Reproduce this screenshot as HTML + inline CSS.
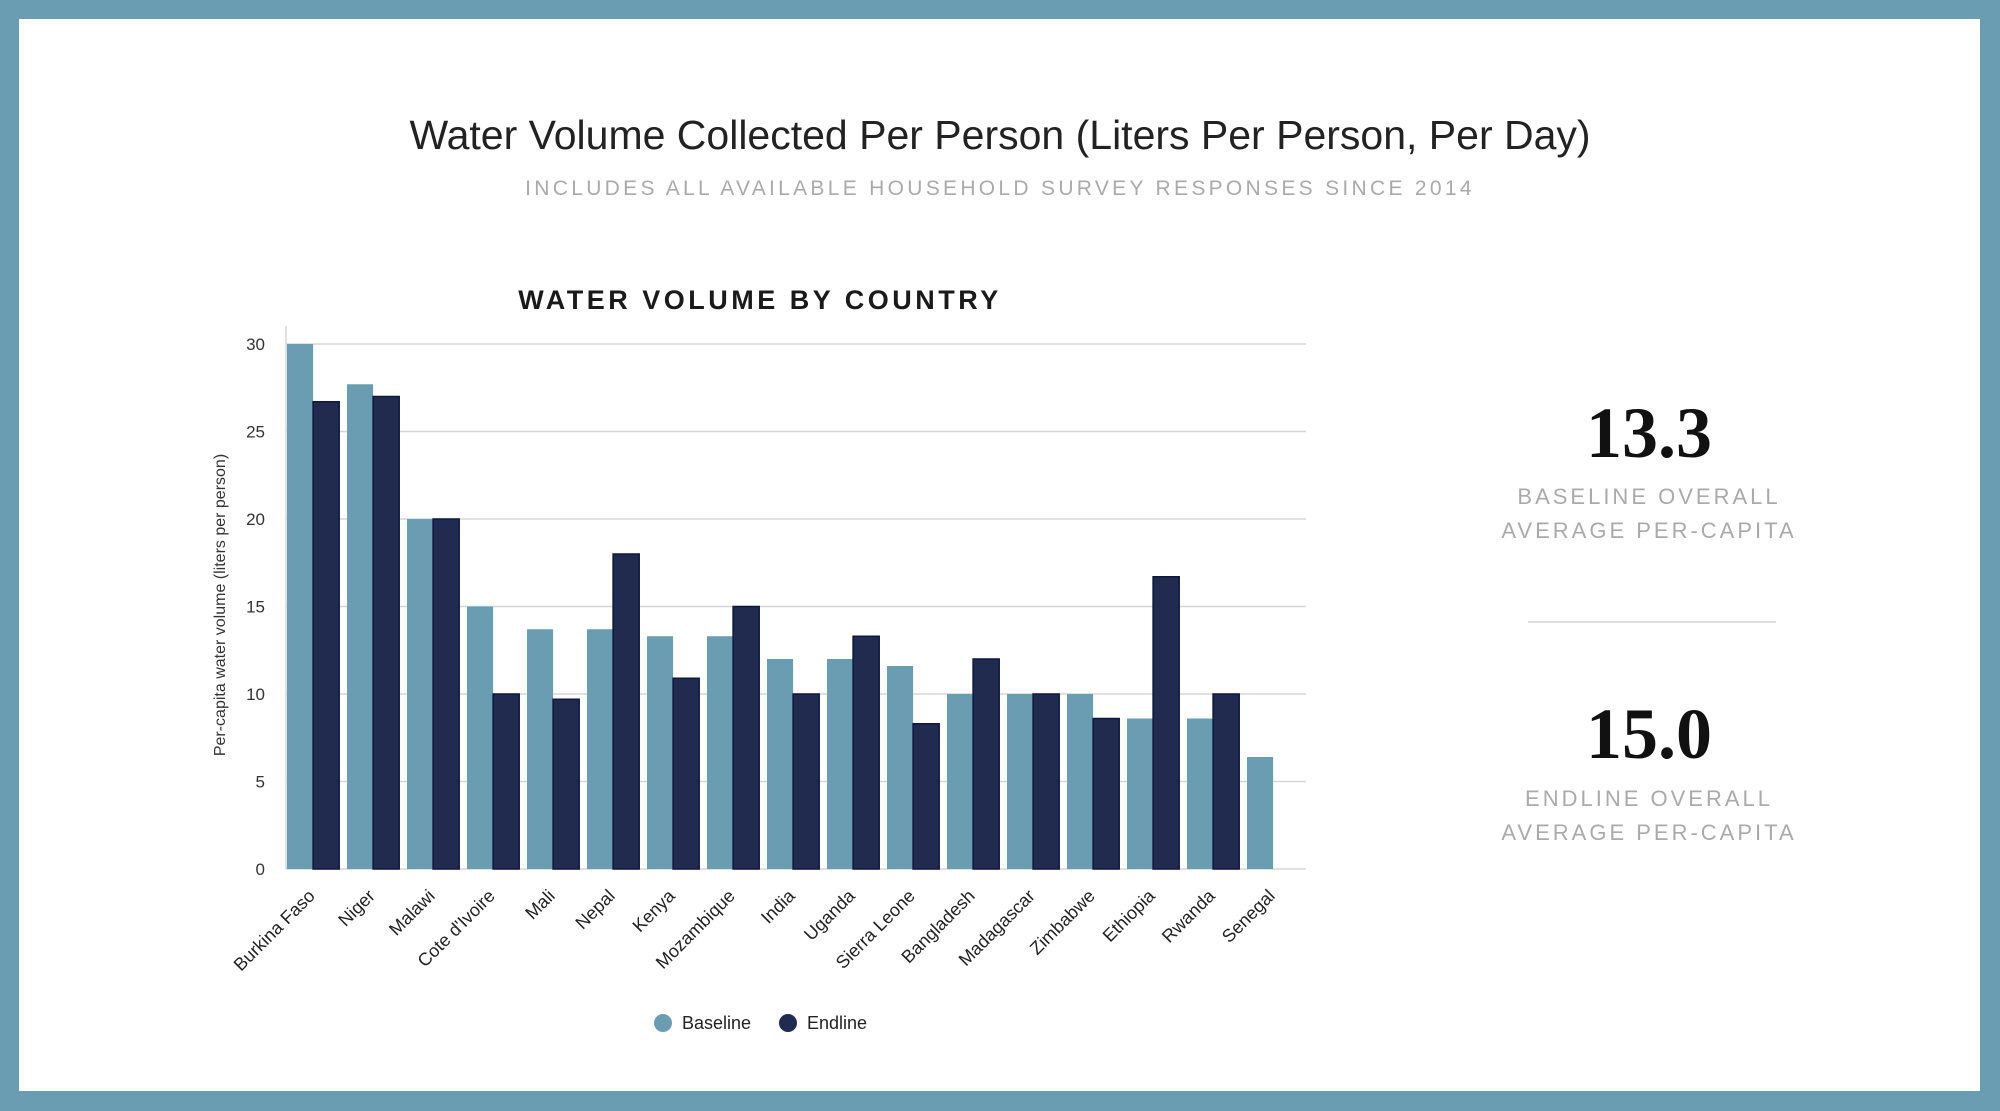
<!DOCTYPE html>
<html><head><meta charset="utf-8">
<style>
html,body{margin:0;padding:0;}
body{width:2000px;height:1111px;background:#6a9db2;position:relative;overflow:hidden;font-family:"Liberation Sans",sans-serif;}
#panel{position:absolute;left:19px;top:19px;width:1961px;height:1072px;background:#fff;}
.abs{position:absolute;}
</style></head>
<body>
<div id="panel"></div>
<div class="abs" style="left:0;width:2000px;top:112px;text-align:center;font-size:41px;color:#222;">Water Volume Collected Per Person (Liters Per Person, Per Day)</div>
<div class="abs" style="left:0;width:2000px;top:177px;text-align:center;font-size:21px;letter-spacing:3.3px;color:#aaa;">INCLUDES ALL AVAILABLE HOUSEHOLD SURVEY RESPONSES SINCE 2014</div>

<div class="abs" style="left:1449px;width:400px;top:392px;text-align:center;font-family:'Liberation Serif',serif;font-weight:bold;font-size:72px;color:#111;">13.3</div>
<div class="abs" style="left:1449px;width:400px;top:480px;text-align:center;font-size:22px;letter-spacing:3px;line-height:34px;color:#aaa;">BASELINE OVERALL<br>AVERAGE PER-CAPITA</div>
<div class="abs" style="left:1528px;width:248px;top:621px;height:2px;background:#ddd;"></div>
<div class="abs" style="left:1449px;width:400px;top:693px;text-align:center;font-family:'Liberation Serif',serif;font-weight:bold;font-size:72px;color:#111;">15.0</div>
<div class="abs" style="left:1449px;width:400px;top:782px;text-align:center;font-size:22px;letter-spacing:3px;line-height:34px;color:#aaa;">ENDLINE OVERALL<br>AVERAGE PER-CAPITA</div>

<svg id="chart" class="abs" style="left:0;top:0" width="2000" height="1111"></svg>
<script>
const categories=["Burkina Faso","Niger","Malawi","Cote d'Ivoire","Mali","Nepal","Kenya","Mozambique","India","Uganda","Sierra Leone","Bangladesh","Madagascar","Zimbabwe","Ethiopia","Rwanda","Senegal"];
const baseline=[30,27.7,20,15,13.7,13.7,13.3,13.3,12,12,11.6,10,10,10,8.6,8.6,6.4];
const endline=[26.7,27,20,10,9.7,18,10.9,15,10,13.3,8.3,12,10,8.6,16.7,10,null];
const yTicks=[0,5,10,15,20,25,30];

const NS="http://www.w3.org/2000/svg";
const svg=document.getElementById('chart');
const X0=286,X1=1306,Y0=869,Y30=344,yMax=30;
const y=v=>Y0-(v/yMax)*(Y0-Y30);
const gw=(X1-X0)/categories.length;
const bw=gw*0.435, padL=1;
const gx=i=>X0+i*gw;
function mk(tag,attrs,parent){const e=document.createElementNS(NS,tag);for(const k in attrs)e.setAttribute(k,attrs[k]);(parent||svg).appendChild(e);return e;}

let t=mk('text',{x:760,y:309,'text-anchor':'middle','font-size':'27','font-weight':'bold','letter-spacing':'3.5',fill:'#1a1a1a','font-family':'Liberation Sans, sans-serif'});
t.textContent="WATER VOLUME BY COUNTRY";



yTicks.forEach(v=>{
  const l=mk('line',{x1:X0,x2:X1,y1:y(v),y2:y(v),stroke:'#d6d6d6','stroke-width':1.5});
  
  
  const tx=mk('text',{x:265,y:y(v)+6,'text-anchor':'end','font-size':'17',fill:'#333','font-family':'Liberation Sans, sans-serif'});
  tx.textContent=v;
  
  
});
const ax=mk('line',{x1:X0,x2:X0,y1:326,y2:Y0,stroke:'#d6d6d6','stroke-width':1.5});



const yt=mk('text',{x:0,y:0,transform:'translate(225,605) rotate(-90)','text-anchor':'middle','font-size':'16',fill:'#333','font-family':'Liberation Sans, sans-serif'});
yt.textContent="Per-capita water volume (liters per person)";



categories.forEach((c,i)=>{
  if(baseline[i]!=null){
    const r=mk('rect',{x:gx(i)+padL,y:y(baseline[i]),width:bw,height:Y0-y(baseline[i]),fill:'#6a9db2'});
    
    
  }
  if(endline[i]!=null){
    const r=mk('rect',{x:gx(i)+padL+bw,y:y(endline[i]),width:bw,height:Y0-y(endline[i]),fill:'#212a4f',stroke:'#0f1740','stroke-width':1.5});
    
    
  }
  const cx=gx(i)+gw/2+0, cy=Y0+28;
  const lt=mk('text',{x:cx,y:cy,transform:`rotate(-45 ${cx} ${cy})`,'text-anchor':'end','font-size':'18',fill:'#222','font-family':'Liberation Sans, sans-serif'});
  lt.textContent=c;
  
  
});

const legend=[["Baseline","#6a9db2",663],["Endline","#212a4f",788]];
legend.forEach(([n,col,lx])=>{
  const c=mk('circle',{cx:lx,cy:1023,r:9,fill:col});
  
  
  const tx=mk('text',{x:lx+19,y:1029,'font-size':'18',fill:'#222','font-family':'Liberation Sans, sans-serif'});
  tx.textContent=n;
  
  
});
</script>
</body></html>
